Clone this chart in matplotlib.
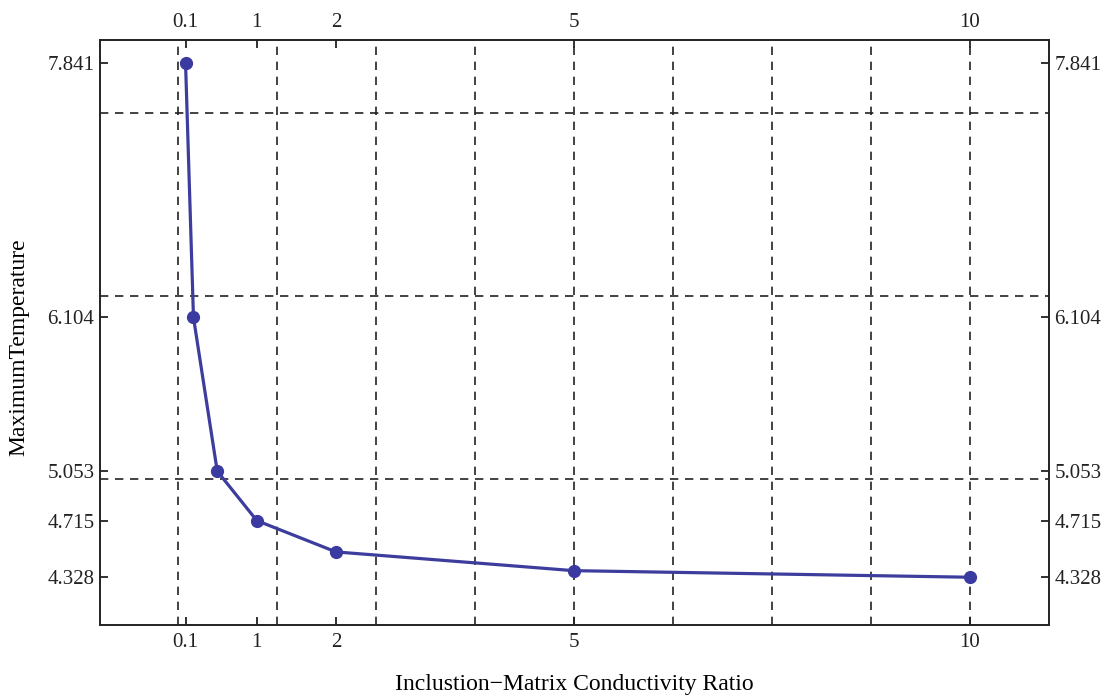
import matplotlib
matplotlib.use('Agg')
import matplotlib.pyplot as plt
import numpy as np

# data
ratio = [0.1, 0.2, 0.5, 1, 2, 5, 10]
max_temp = [7.841, 6.104, 5.053, 4.715, 4.501, 4.373, 4.328]

xticks = [0.1, 1, 2, 5, 10]
xtick_labels = ['0.1', '1', '2', '5', '10']
yticks = [4.328, 4.715, 5.053, 6.104, 7.841]
ytick_labels = ['4.328', '4.715', '5.053', '6.104', '7.841']

xgrid = [0, 1.25, 2.5, 3.75, 5, 6.25, 7.5, 8.75, 10]
ygrid = [5.0, 6.25, 7.5]

plt.rcParams['font.family'] = ['Liberation Serif', 'DejaVu Serif']

fig = plt.figure(figsize=(11.07, 6.98), dpi=100)
ax = fig.add_axes([100/1107, 1 - 624.5/698, 949/1107, 584.5/698])

for gx in xgrid:
    ax.axvline(gx, color='#222222', lw=1.2, ls=(0, (5, 4)), zorder=1)
for gy in ygrid:
    ax.axhline(gy, color='#222222', lw=1.2, ls=(0, (5, 4)), zorder=1)

ax.plot(ratio, max_temp, color='#3d3d9e', lw=2.3, marker='o', ms=8.5,
        markerfacecolor='#3a3aa0', markeredgecolor='#3a3aa0', zorder=3)

ax.set_xlim(-0.98, 11.0)
ax.set_ylim(4.005, 8.0)

ax.set_xticks(xticks)
ax.set_xticklabels(xtick_labels)
ax.set_yticks(yticks)
ax.set_yticklabels(ytick_labels)
ax.tick_params(direction='in', top=True, right=True, labeltop=True, labelright=True,
               length=6, width=1.3, labelsize=15, colors='#222222', pad=6)
ax.tick_params(axis='y', pad=4)

for sp in ax.spines.values():
    sp.set_linewidth(1.4)
    sp.set_color('#222222')

ax.set_xlabel('Inclustion\u2212Matrix Conductivity Ratio', fontsize=17, labelpad=16)
ax.set_ylabel('MaximumTemperature', fontsize=17)
ax.yaxis.set_label_coords(-0.074, 0.475)

plt.savefig('out.png', dpi=100)
